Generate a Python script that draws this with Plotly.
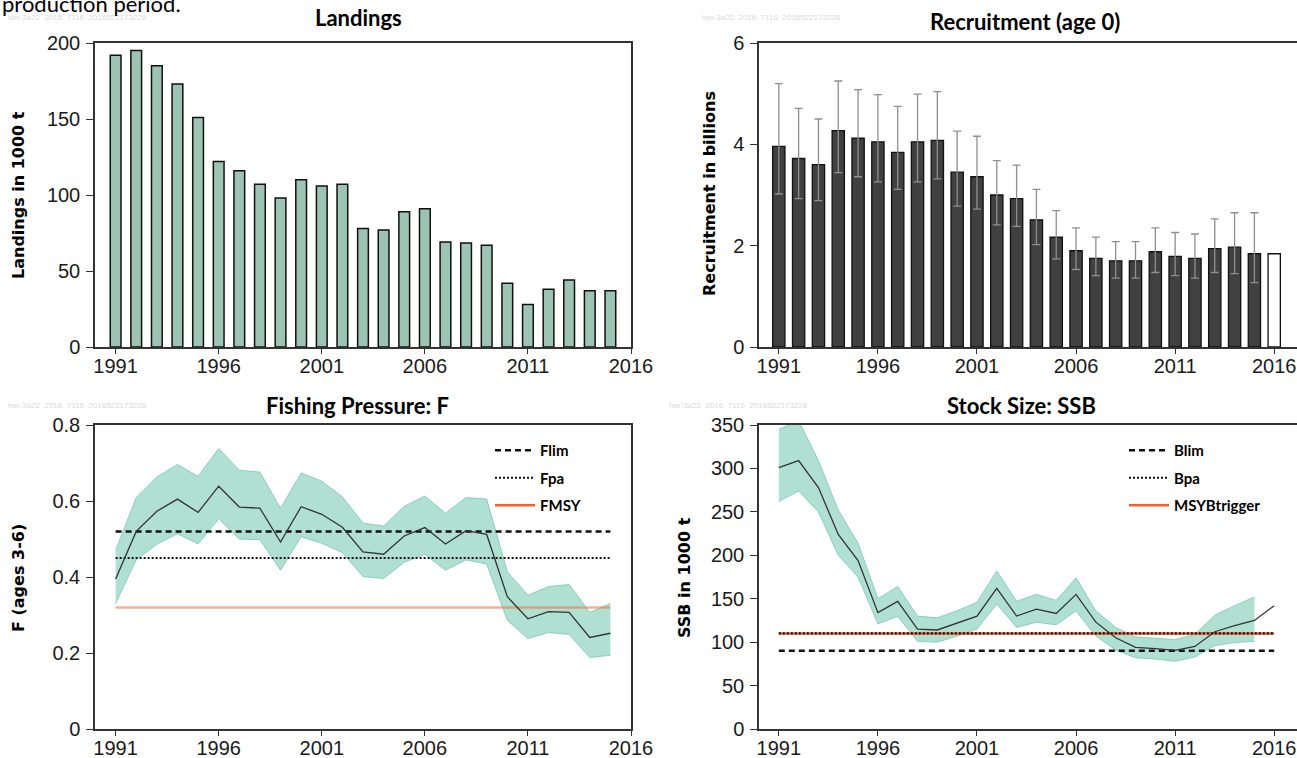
import plotly.graph_objects as go

# ---------------- data ----------------
years = list(range(1991, 2016))
landings = [192, 195, 185, 173, 151, 122, 116, 107, 98, 110, 106, 107, 78, 77,
            89, 91, 69, 68.5, 67, 42, 28, 38, 44, 37, 37]

rec_years = list(range(1991, 2016))
recruitment = [3.96, 3.72, 3.60, 4.27, 4.12, 4.05, 3.84, 4.05, 4.08, 3.45, 3.36,
               3.00, 2.93, 2.51, 2.17, 1.90, 1.75, 1.70, 1.70, 1.88, 1.79, 1.75,
               1.94, 1.97, 1.84]
rec_high = [5.20, 4.71, 4.50, 5.25, 5.08, 4.98, 4.75, 4.99, 5.04, 4.26, 4.16,
            3.68, 3.59, 3.11, 2.69, 2.35, 2.17, 2.08, 2.08, 2.35, 2.26, 2.23,
            2.53, 2.65, 2.65]
rec_low = [3.02, 2.93, 2.89, 3.44, 3.36, 3.26, 3.11, 3.26, 3.32, 2.78, 2.72,
           2.41, 2.38, 2.02, 1.74, 1.53, 1.41, 1.36, 1.36, 1.47, 1.41, 1.36,
           1.47, 1.45, 1.27]
rec_proj_year = [2016]
rec_proj = [1.84]

f_mean = [0.395, 0.52, 0.573, 0.605, 0.570, 0.639, 0.584, 0.581, 0.492, 0.585,
          0.565, 0.531, 0.466, 0.460, 0.508, 0.530, 0.487, 0.522, 0.512, 0.348,
          0.290, 0.309, 0.307, 0.241, 0.252]
f_high = [0.47, 0.609, 0.663, 0.696, 0.665, 0.738, 0.681, 0.676, 0.581, 0.674,
          0.652, 0.611, 0.542, 0.534, 0.586, 0.613, 0.568, 0.609, 0.605, 0.414,
          0.352, 0.375, 0.380, 0.307, 0.330]
f_low = [0.330, 0.445, 0.486, 0.514, 0.487, 0.553, 0.500, 0.498, 0.418, 0.506,
         0.489, 0.464, 0.401, 0.396, 0.439, 0.460, 0.418, 0.445, 0.434, 0.286,
         0.238, 0.254, 0.249, 0.188, 0.194]
Flim, Fpa, FMSY = 0.52, 0.45, 0.32

ssb_years = list(range(1991, 2017))
ssb = [301, 309, 278, 224, 194, 134, 147, 115, 114, 122, 130, 162, 130, 138,
       133, 155, 123, 105, 94, 92.5, 90.6, 95, 112, 119, 125, 142]
ssb_high = [345, 355, 309, 252, 214, 150, 164, 130, 128, 136, 146, 182, 147, 155,
            148, 174, 136, 117, 106, 104.5, 103, 109, 131, 142, 152]
ssb_low = [262, 274, 250, 200, 175, 121, 130, 101, 100, 107, 115, 144, 117, 123,
           120, 136, 107, 91, 82, 80.6, 78, 83, 96, 99.5, 101]
Blim, Bpa, MSYBtrigger = 90, 110, 110

year_ticks = [1991, 1996, 2001, 2006, 2011, 2016]

# ---------------- styling ----------------
W, H = 1297, 758
TICK_FONT = dict(family="Liberation Sans Narrow, Arial Narrow, Liberation Sans, sans-serif",
                 size=20, color="#1a1a1a")
TITLE_FAMILY = "Lato, Noto Sans, sans-serif"
YT_FAMILY = "DejaVu Sans, Verdana, sans-serif"
BAND_FILL = "rgba(150,214,193,0.75)"
BAND_LINE = "rgba(130,205,180,0.9)"
ORANGE = "#f0602e"


def px(x):
    return x / W


def py(y):
    return 1 - y / H


L_DOM = [px(95), px(631)]
R_DOM = [px(759), 1.0]
T_DOM = [py(347), py(43)]
B_DOM = [py(729), py(425)]

fig = go.Figure()

# Landings
fig.add_trace(go.Bar(x=years, y=landings, width=0.52,
                     marker=dict(color="#9cc3b4", line=dict(color="#111", width=1.5)),
                     xaxis="x", yaxis="y", showlegend=False))

# Recruitment
fig.add_trace(go.Bar(x=rec_years, y=recruitment, width=0.62,
                     marker=dict(color="#404040", line=dict(color="#111", width=1.3)),
                     error_y=dict(type="data", symmetric=False,
                                  array=[h - v for h, v in zip(rec_high, recruitment)],
                                  arrayminus=[v - l for v, l in zip(recruitment, rec_low)],
                                  color="#8f8f8f", thickness=1.3, width=4),
                     xaxis="x2", yaxis="y2", showlegend=False))
fig.add_trace(go.Bar(x=rec_proj_year, y=rec_proj, width=0.62,
                     marker=dict(color="white", line=dict(color="#111", width=1.3)),
                     xaxis="x2", yaxis="y2", showlegend=False))

# Fishing pressure
fig.add_trace(go.Scatter(x=years, y=f_high, mode="lines", line=dict(color=BAND_LINE, width=1),
                         xaxis="x3", yaxis="y3", showlegend=False, hoverinfo="skip"))
fig.add_trace(go.Scatter(x=years, y=f_low, mode="lines", line=dict(color=BAND_LINE, width=1),
                         fill="tonexty", fillcolor=BAND_FILL,
                         xaxis="x3", yaxis="y3", showlegend=False, hoverinfo="skip"))
fig.add_trace(go.Scatter(x=[1991, 2015], y=[FMSY, FMSY], mode="lines",
                         line=dict(color="rgba(242,120,80,0.6)", width=2.5),
                         xaxis="x3", yaxis="y3", showlegend=False))
fig.add_trace(go.Scatter(x=[1991, 2015], y=[Flim, Flim], mode="lines", name="Flim",
                         line=dict(color="#111", width=2.5, dash="6px,4px"),
                         xaxis="x3", yaxis="y3", legend="legend", legendgroup="a"))
fig.add_trace(go.Scatter(x=[1991, 2015], y=[Fpa, Fpa], mode="lines", name="Fpa",
                         line=dict(color="#111", width=2.2, dash="2px,2px"),
                         xaxis="x3", yaxis="y3", legend="legend", legendgroup="b"))
fig.add_trace(go.Scatter(x=[None], y=[None], mode="lines", name="FMSY",
                         line=dict(color=ORANGE, width=2.5),
                         xaxis="x3", yaxis="y3", legend="legend", legendgroup="c"))
fig.add_trace(go.Scatter(x=years, y=f_mean, mode="lines", line=dict(color="#333", width=1.3),
                         xaxis="x3", yaxis="y3", showlegend=False))

# SSB
fig.add_trace(go.Scatter(x=ssb_years[:len(ssb_high)], y=ssb_high, mode="lines",
                         line=dict(color=BAND_LINE, width=1),
                         xaxis="x4", yaxis="y4", showlegend=False, hoverinfo="skip"))
fig.add_trace(go.Scatter(x=ssb_years[:len(ssb_low)], y=ssb_low, mode="lines",
                         line=dict(color=BAND_LINE, width=1),
                         fill="tonexty", fillcolor=BAND_FILL,
                         xaxis="x4", yaxis="y4", showlegend=False, hoverinfo="skip"))
fig.add_trace(go.Scatter(x=[1991, 2016], y=[Blim, Blim], mode="lines", name="Blim",
                         line=dict(color="#111", width=2.5, dash="6px,4px"),
                         xaxis="x4", yaxis="y4", legend="legend2", legendgroup="d"))
fig.add_trace(go.Scatter(x=[1991, 2016], y=[MSYBtrigger, MSYBtrigger], mode="lines",
                         line=dict(color=ORANGE, width=2.5),
                         xaxis="x4", yaxis="y4", showlegend=False))
fig.add_trace(go.Scatter(x=[1991, 2016], y=[Bpa, Bpa], mode="lines", name="Bpa",
                         line=dict(color="#111", width=2.2, dash="2px,2px"),
                         xaxis="x4", yaxis="y4", legend="legend2", legendgroup="e"))
fig.add_trace(go.Scatter(x=[None], y=[None], mode="lines", name="MSYBtrigger",
                         line=dict(color=ORANGE, width=2.5),
                         xaxis="x4", yaxis="y4", legend="legend2", legendgroup="f"))
fig.add_trace(go.Scatter(x=ssb_years, y=ssb, mode="lines", line=dict(color="#333", width=1.3),
                         xaxis="x4", yaxis="y4", showlegend=False))


def xax(dom, rng, anchor):
    return dict(domain=dom, range=rng, anchor=anchor, tickvals=year_ticks,
                ticks="outside", ticklen=5, tickwidth=1.2, tickcolor="#333",
                showline=True, linecolor="#333", linewidth=1.5, mirror=True,
                showgrid=False, zeroline=False, tickfont=TICK_FONT, fixedrange=True,
                ticklabelstandoff=-5)


def yax(dom, rng, tv, anchor, mirror=True):
    return dict(domain=dom, range=rng, anchor=anchor, tickvals=tv,
                ticks="outside", ticklen=7, tickwidth=1.2, tickcolor="#333",
                showline=True, linecolor="#333", linewidth=1.5, mirror=mirror,
                showgrid=False, zeroline=False, tickfont=TICK_FONT, fixedrange=True,
                ticklabelstandoff=2)


annotations = []


def title(text, xc, yc):
    annotations.append(dict(text="<b>" + text + "</b>", x=px(xc), y=py(yc), xref="paper",
                            yref="paper", showarrow=False, xanchor="center", yanchor="middle",
                            font=dict(family=TITLE_FAMILY, size=22, color="black")))


def ytitle(text, xc, yc):
    annotations.append(dict(text="<b>" + text + "</b>", x=px(xc), y=py(yc), xref="paper",
                            yref="paper", showarrow=False, xanchor="center", yanchor="middle",
                            textangle=-90,
                            font=dict(family=YT_FAMILY, size=16, color="black")))


def watermark(xl, yc):
    annotations.append(dict(text="her-3a22  2016  7116  2016522173228", x=px(xl), y=py(yc),
                            xref="paper", yref="paper", showarrow=False, xanchor="left",
                            yanchor="middle",
                            font=dict(family="Liberation Sans", size=8, color="#d9d9d9")))


title("Landings", 358, 17)
title("Recruitment (age 0)", 1025, 22)
title("Fishing Pressure: F", 357, 405)
title("Stock Size: SSB", 1021, 405)
ytitle("Landings in 1000 t", 18, 195)
ytitle("Recruitment in billions", 710, 194)
ytitle("F (ages 3-6)", 18, 578)
ytitle("SSB in 1000 t", 684, 578)
watermark(6, 17)
watermark(700, 17)
watermark(6, 405)
watermark(667, 405)
annotations.append(dict(text="production period.", x=0, y=py(3), xref="paper", yref="paper",
                        showarrow=False, xanchor="left", yanchor="middle",
                        font=dict(family="Lato, Noto Sans, sans-serif", size=22, color="black")))

LEG_FONT = dict(family=TITLE_FAMILY, size=15, color="black", weight="bold")

fig.update_layout(
    width=W, height=H, margin=dict(l=0, r=0, t=0, b=0, autoexpand=False),
    paper_bgcolor="white", plot_bgcolor="white",
    barmode="overlay",
    xaxis=xax(L_DOM, [1990, 2016], "y"),
    yaxis=yax(T_DOM, [0, 200], [0, 50, 100, 150, 200], "x"),
    xaxis2=xax(R_DOM, [1990, 2017.15], "y2"),
    yaxis2=yax(T_DOM, [0, 6], [0, 2, 4, 6], "x2", mirror=False),
    xaxis3=xax(L_DOM, [1990, 2016], "y3"),
    yaxis3=yax(B_DOM, [0, 0.8], [0, 0.2, 0.4, 0.6, 0.8], "x3"),
    xaxis4=xax(R_DOM, [1990, 2017.15], "y4"),
    yaxis4=yax(B_DOM, [0, 350], [0, 50, 100, 150, 200, 250, 300, 350], "x4", mirror=False),
    legend=dict(x=px(490), y=py(434), xanchor="left", yanchor="top", bgcolor="rgba(0,0,0,0)",
                font=LEG_FONT, itemwidth=40, tracegroupgap=5, traceorder="grouped"),
    legend2=dict(x=px(1124), y=py(434), xanchor="left", yanchor="top", bgcolor="rgba(0,0,0,0)",
                 font=LEG_FONT, itemwidth=40, tracegroupgap=5, traceorder="grouped"),
    annotations=annotations,
    showlegend=True,
)

fig.write_html("out.html",
               config={"displayModeBar": False},
               post_script="document.body.style.margin='0';"
                           "document.body.style.overflow='hidden';")
